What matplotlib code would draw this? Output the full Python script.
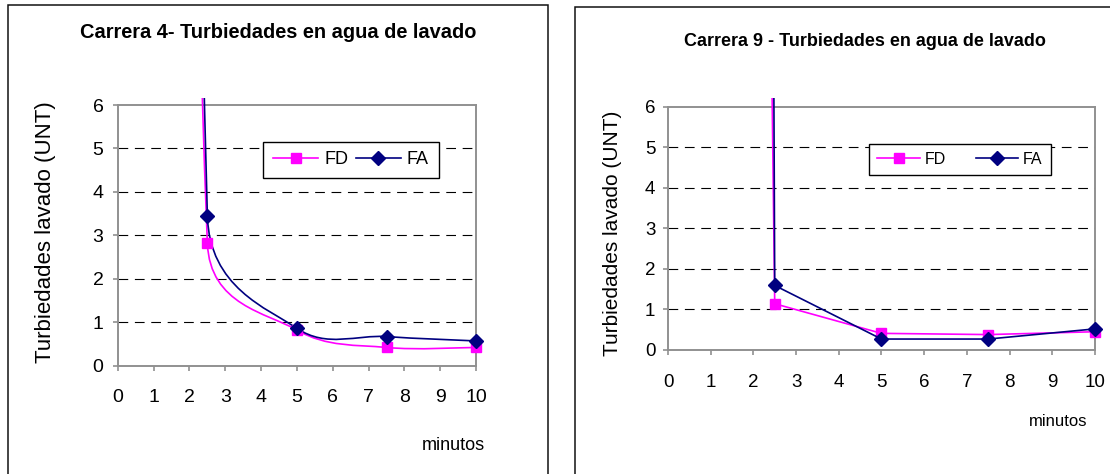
import numpy as np
import matplotlib
matplotlib.use("Agg")
import matplotlib.pyplot as plt
from matplotlib.path import Path
from matplotlib.patches import PathPatch, Rectangle
from matplotlib.lines import Line2D

# Carrera 4 (izquierda): turbiedad del agua de lavado vs minutos
c4_min = [0, 2.5, 5, 7.5, 10]
c4_fd = [105, 2.82, 0.82, 0.42, 0.42]
c4_fa = [150, 3.45, 0.86, 0.67, 0.57]

# Carrera 9 (derecha)
c9_min = [0, 2.5, 5, 7.5, 10]
c9_fd = [210, 1.14, 0.41, 0.38, 0.45]
c9_fa = [600, 1.59, 0.27, 0.27, 0.52]

x_ticks = list(range(0, 11))
y_ticks = list(range(0, 7))

PINK = '#FF00FF'
NAVY = '#000080'

plt.rcParams['font.family'] = ['Liberation Sans', 'DejaVu Sans']
plt.rcParams['lines.scale_dashes'] = False


def excel_smooth(ax, xs, ys):
    # bezier like Excel's "smoothed line", built in pixel space
    pts = ax.transData.transform(np.column_stack([xs, ys]))
    n = len(pts)
    verts = [pts[0]]
    codes = [Path.MOVETO]
    for i in range(n - 1):
        p0 = pts[i - 1] if i > 0 else pts[i]
        p1, p2 = pts[i], pts[i + 1]
        p3 = pts[i + 2] if i + 2 < n else pts[i + 1]
        d12 = np.hypot(*(p2 - p1))
        t1 = p2 - p0
        t2 = p3 - p1
        a1 = min(np.hypot(*t1) / 6, d12 / 2)
        a2 = min(np.hypot(*t2) / 6, d12 / 2)
        c1 = p1 + t1 / np.hypot(*t1) * a1
        c2 = p2 - t2 / np.hypot(*t2) * a2
        verts += [c1, c2, p2]
        codes += [Path.CURVE4] * 3
    return Path(ax.transData.inverted().transform(np.array(verts)), codes)


def setup_axes(ax, tick_fs, xpad, ypad):
    ax.set_xlim(0, 10)
    ax.set_ylim(0, 6)
    ax.set_xticks(x_ticks)
    ax.set_yticks(y_ticks)
    for s in ax.spines.values():
        s.set_color('#909090')
        s.set_linewidth(1.4)
    ax.tick_params(axis='both', direction='out', length=3.6, width=1.2,
                   color='#909090', labelsize=tick_fs)
    ax.tick_params(axis='x', pad=xpad)
    ax.tick_params(axis='y', pad=ypad)
    ax.hlines(y_ticks[1:-1], 0, 10, colors='black', linewidth=0.8,
              linestyles=(0, (7, 4.8)), zorder=1)


def clip_rect(ax, top):
    r = Rectangle((-0.5, -0.5), 11.0, top + 0.5, transform=ax.transData,
                  fill=False, visible=False)
    ax.add_patch(r)
    return r


fig = plt.figure(figsize=(11.1, 4.74), dpi=100)

# marcos de cada grafico
fig.patches.append(Rectangle((8 / 1110, -0.05), 539.5 / 1110, 0.05 + 1 - 5.4 / 474,
                             transform=fig.transFigure, fill=False,
                             edgecolor='#111111', linewidth=1.1))
fig.patches.append(Rectangle((575 / 1110, -0.05), 0.6, 0.05 + 1 - 6.7 / 474,
                             transform=fig.transFigure, fill=False,
                             edgecolor='#111111', linewidth=1.1))

# ---- Carrera 4 ----
ax1 = fig.add_axes([117.8 / 1110, 108.3 / 474, 358.3 / 1110, 260.7 / 474])
setup_axes(ax1, 14, 13.4, 6.7)
cl = clip_rect(ax1, 6.17)
for ys, col, mk, ms in [(c4_fd, PINK, 's', 7.5), (c4_fa, NAVY, 'D', 7)]:
    pp = PathPatch(excel_smooth(ax1, c4_min, ys), facecolor='none',
                   edgecolor=col, linewidth=1.2, zorder=3)
    ax1.add_patch(pp)
    pp.set_clip_path(cl)
    ln, = ax1.plot(c4_min, ys, ls='none', marker=mk, ms=ms, color=col, zorder=4)
    ln.set_clip_path(cl)

h1 = [Line2D([], [], color=PINK, marker='s', ms=7.5, lw=1.2),
      Line2D([], [], color=NAVY, marker='D', ms=7, lw=1.2)]
leg1 = ax1.legend(h1, ['FD', 'FA'], ncol=2, loc='center',
                  bbox_to_anchor=(351 / 1110, 1 - 160 / 474), bbox_transform=fig.transFigure,
                  fancybox=False, edgecolor='black', framealpha=1, fontsize=13,
                  handlelength=2.5, handletextpad=0.33, columnspacing=0.4,
                  borderpad=0.55)
leg1.get_frame().set_linewidth(1.0)

fig.text(278.6 / 1110, 1 - 33 / 474, 'Carrera 4- Turbiedades en agua de lavado',
         ha='center', va='center', fontsize=14.4, fontweight='bold')
fig.text(46 / 1110, 1 - 232.5 / 474, 'Turbiedades lavado (UNT)', rotation=90,
         ha='center', va='center', fontsize=16)
fig.text(453.6 / 1110, 1 - 445 / 474, 'minutos', ha='center', va='center',
         fontsize=13)

# ---- Carrera 9 ----
ax2 = fig.add_axes([668 / 1110, 124 / 474, 426.9 / 1110, 243.5 / 474])
setup_axes(ax2, 13.5, 13.6, 5.5)
cl2 = clip_rect(ax2, 6.21)
for ys, col, mk, ms in [(c9_fd, PINK, 's', 7.5), (c9_fa, NAVY, 'D', 7)]:
    ln, = ax2.plot(c9_min, ys, color=col, lw=1.2, marker=mk, ms=ms, zorder=3)
    ln.set_clip_path(cl2)

h2 = [Line2D([], [], color=PINK, marker='s', ms=7.5, lw=1.2),
      Line2D([], [], color=NAVY, marker='D', ms=7, lw=1.2)]
leg2 = ax2.legend(h2, ['FD', 'FA'], ncol=2, loc='center',
                  bbox_to_anchor=(960 / 1110, 1 - 159.4 / 474), bbox_transform=fig.transFigure,
                  fancybox=False, edgecolor='black', framealpha=1, fontsize=11.5,
                  handlelength=2.65, handletextpad=0.31, columnspacing=1.87,
                  borderpad=0.5)
leg2.get_frame().set_linewidth(1.0)

fig.text(865 / 1110, 1 - 41.7 / 474, 'Carrera 9 - Turbiedades en agua de lavado',
         ha='center', va='center', fontsize=13, fontweight='bold')
fig.text(612.6 / 1110, 1 - 233 / 474, 'Turbiedades lavado (UNT)', rotation=90,
         ha='center', va='center', fontsize=15)
fig.text(1058 / 1110, 1 - 421.7 / 474, 'minutos', ha='center', va='center',
         fontsize=12)

fig.savefig('out.png', dpi=100)
